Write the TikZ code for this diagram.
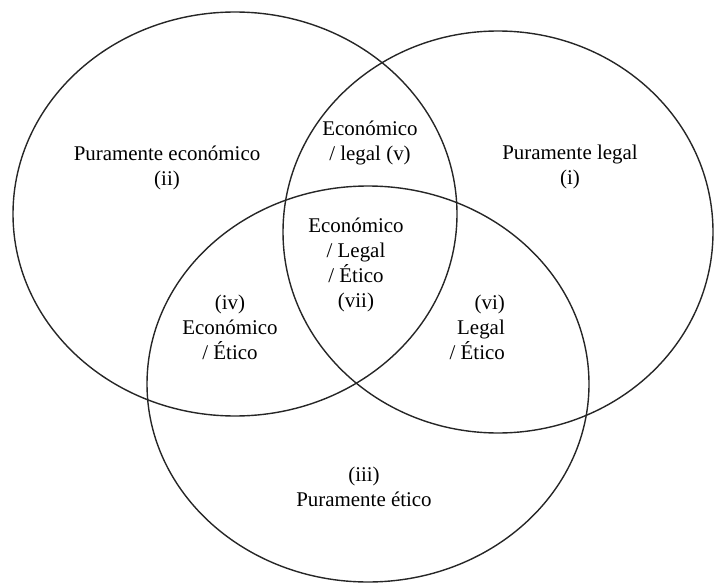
\documentclass[tikz,border=0pt]{standalone}
\usepackage{fontspec}
\setmainfont{Liberation Serif}
\begin{document}
\begin{tikzpicture}[x=1bp,y=-1bp,
  ring/.style={draw=black!85,line width=1.4bp},
  lbl/.style={align=center,font=\fontsize{21}{25}\selectfont,text=black,inner sep=0pt},
  lblr/.style={lbl,align=right}]
\useasboundingbox (0,0) rectangle (714,585);
% three overlapping sets
\draw[ring] (235,214) ellipse [x radius=222,y radius=202];
\draw[ring] (498,232) ellipse [x radius=215,y radius=201];
\draw[ring] (368,384) ellipse [x radius=221,y radius=198];
% region labels
\node[lbl] (ii) at (167,168) {Puramente económico\\(ii)};
\node[lbl] (i) at (570,167) {Puramente legal\\(i)};
\node[lbl] (v) at (370,143) {Económico\\/ legal (v)};
\node[lbl] (vii) at (356,265) {Económico\\/ Legal\\/ Ético\\(vii)};
\node[lbl] (iv) at (230,327) {(iv)\\Económico\\/ Ético};
\node[lblr,anchor=east] (vi) at (505,327) {(vi)\\Legal\\/ Ético};
\node[lbl] (iii) at (364,487) {(iii)\\Puramente ético};
\end{tikzpicture}
\end{document}
